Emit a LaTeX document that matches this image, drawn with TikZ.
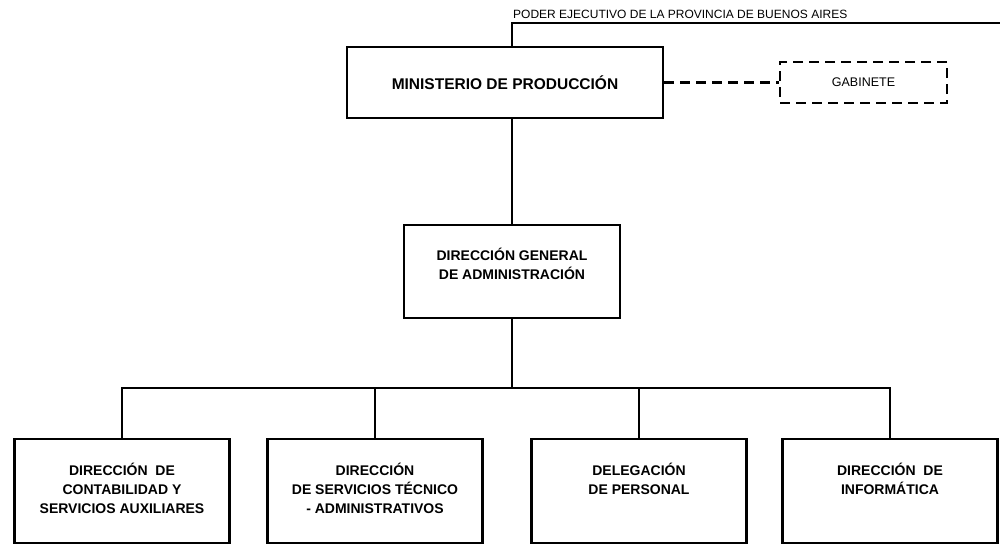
\documentclass[tikz,border=0pt]{standalone}
\usepackage{fontspec}
\setmainfont{Liberation Sans}
\usetikzlibrary{positioning}
\tikzset{
  unit/.style={draw,line width=2.2pt,minimum width=#1,minimum height=104pt,inner sep=0pt},
  unit/.default=215pt,
  txt/.style={font=\fontsize{14}{19}\selectfont\bfseries,align=center,inner sep=0pt,anchor=north},
  link/.style={line width=1.9pt},
  asesor/.style={draw,line width=2.2pt,dash pattern=on 10pt off 6pt,minimum width=167pt,
    minimum height=41pt,font=\fontsize{12.5}{15}\selectfont},
  asesorlink/.style={line width=2.2pt,dash pattern=on 10pt off 6pt},
}
\begin{document}
\begin{tikzpicture}[x=1pt,y=-1pt]
  \useasboundingbox (0,0) rectangle (1001,550);
  % top level
  \node[anchor=base west,inner sep=0pt,font=\fontsize{12}{14}\selectfont] (poder) at (513,18) {PODER EJECUTIVO DE LA PROVINCIA DE BUENOS AIRES};
  \coordinate (fin) at (1000,23);
  \node[unit=316pt,minimum height=71pt,line width=2.6pt,font=\fontsize{15.5}{18}\selectfont\bfseries] (min) at (505,82.5) {MINISTERIO DE PRODUCCIÓN};
  \node[asesor] (gab) at (863.5,82.5) {GABINETE};
  \node[unit=216pt,minimum height=93pt] (dga) at (512,271.5) {};
  \node[txt] (dgat) at ([yshift=-24pt]dga.north) {DIRECCIÓN GENERAL\\DE ADMINISTRACIÓN};
  % direcciones
  \node[unit] (c1) at (122,491) {};
  \node[unit] (c2) at (375,491) {};
  \node[unit] (c3) at (639,491) {};
  \node[unit] (c4) at (890,491) {};
  \node[txt] (c1t) at ([yshift=-25pt]c1.north) {DIRECCIÓN \ DE\\CONTABILIDAD Y\\SERVICIOS AUXILIARES};
  \node[txt] (c2t) at ([yshift=-25pt]c2.north) {DIRECCIÓN\\DE SERVICIOS TÉCNICO\\- ADMINISTRATIVOS};
  \node[txt] (c3t) at ([yshift=-25pt]c3.north) {DELEGACIÓN\\DE PERSONAL};
  \node[txt] (c4t) at ([yshift=-25pt]c4.north) {DIRECCIÓN \ DE\\INFORMÁTICA};
  % connectors
  \draw[link] (min.north -| dga.north) |- (fin);
  \draw[asesorlink] (min.east) -- (gab.west);
  \draw[link] (min.south -| dga.north) -- (dga.north);
  \draw[link] (dga.south) -- ++(0,69) coordinate (bus);
  \foreach \c in {c1,c2,c3,c4} \draw[link] (bus) -| (\c.north);
\end{tikzpicture}
\end{document}
